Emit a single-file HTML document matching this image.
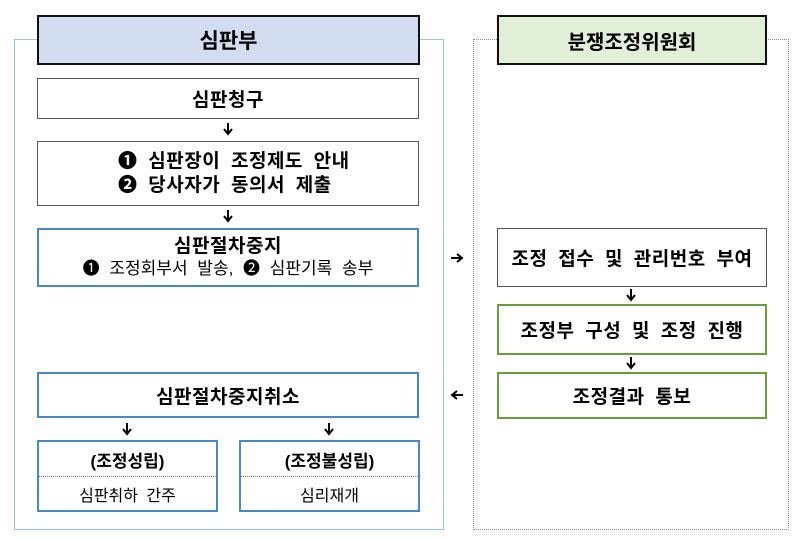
<!DOCTYPE html>
<html><head><meta charset="utf-8"><style>
body{margin:0;width:800px;height:540px;background:#fff;position:relative;font-family:"Liberation Sans","Noto Sans CJK KR",sans-serif;color:#000;overflow:hidden}
div{position:absolute;box-sizing:border-box}
.c{display:flex;align-items:center;justify-content:center;text-align:center}
.b{font-weight:bold}
.t{font-size:19px;letter-spacing:0.5px;word-spacing:5px}
svg{position:absolute;left:0;top:0}
</style></head><body>
<div style="left:14px;top:39px;width:430px;height:491px;border:1.5px solid #9dc3e6"></div>
<div style="left:473px;top:39px;width:316px;height:491px;border:1px dotted #888"></div>
<div class="c b" style="left:37px;top:15px;width:383px;height:50px;background:#d2deef;border:2px solid #111;font-size:21px">심판부</div>
<div class="c b" style="left:497px;top:15px;width:270px;height:50px;background:#e2efd9;border:2px solid #111;font-size:20px">분쟁조정위원회</div>

<div class="c b t" style="left:37px;top:78px;width:382px;height:41px;border:1px solid #555;background:#fff">심판청구</div>
<div class="c b t" style="left:37px;top:141px;width:382px;height:65px;border:1px solid #555;background:#fff;line-height:24px;flex-direction:column;align-items:flex-start;padding-left:80px"><span>❶ 심판장이 조정제도 안내</span><span>❷ 당사자가 동의서 제출</span></div>
<div class="c" style="left:37px;top:228px;width:382px;height:59px;border:2px solid #4a86c8;background:#fff;flex-direction:column;line-height:22px"><span class="b t">심판절차중지</span><span style="font-size:17px;word-spacing:5px">❶ 조정회부서 발송, ❷ 심판기록 송부</span></div>

<div class="c b t" style="left:37px;top:372px;width:382px;height:46px;border:2px solid #4a86c8;background:#fff">심판절차중지취소</div>
<div style="left:37px;top:440px;width:181px;height:72px;border:2px solid #4a86c8;background:#fff">
<div class="c b" style="left:0;top:0;width:177px;height:35px;font-size:17px;border-bottom:1px dotted #777">(조정성립)</div>
<div class="c" style="left:0;top:35px;width:177px;height:33px;font-size:16px;word-spacing:4px">심판취하 간주</div></div>
<div style="left:239px;top:440px;width:181px;height:72px;border:2px solid #4a86c8;background:#fff">
<div class="c b" style="left:0;top:0;width:177px;height:35px;font-size:17px;border-bottom:1px dotted #777">(조정불성립)</div>
<div class="c" style="left:0;top:35px;width:177px;height:33px;font-size:16px">심리재개</div></div>

<div class="c b t" style="left:497px;top:228px;width:270px;height:59px;border:1px solid #555;background:#fff">조정 접수 및 관리번호 부여</div>
<div class="c b t" style="left:497px;top:304px;width:270px;height:51px;border:2px solid #6a9a3c;background:#fff">조정부 구성 및 조정 진행</div>
<div class="c b t" style="left:497px;top:372px;width:270px;height:47px;border:2px solid #6a9a3c;background:#fff">조정결과 통보</div>

<svg width="800" height="540">
<g stroke="#000" stroke-width="2" fill="none">
<path d="M228 123v10M224 129l4 5 4-5"/>
<path d="M228 210v10M224 216l4 5 4-5"/>
<path d="M127 423v10M123 429l4 5 4-5"/>
<path d="M329 423v10M325 429l4 5 4-5"/>
<path d="M631 289v10M627 295l4 5 4-5"/>
<path d="M631 357v10M627 363l4 5 4-5"/>
<path d="M451 258h10M457 254l5 4-5 4"/>
<path d="M463 395h-10M457 391l-5 4 5 4"/>
</g></svg>
</body></html>
